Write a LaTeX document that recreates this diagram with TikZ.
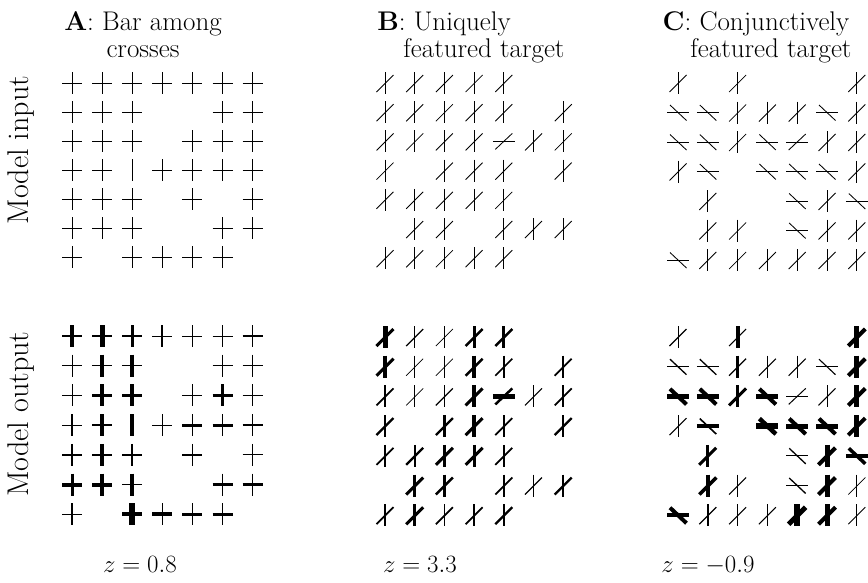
\documentclass[tikz,border=0pt]{standalone}
\newcommand{\plusg}[4]{\begin{scope}[shift={({(#1-1)*\gx},{(#2-1)*\gy})}]
\draw[line width=#3pt] (0,-11)--(0,11);
\draw[line width=#4pt] (-10,0)--(10,0);\end{scope}}
\newcommand{\barg}[3]{\begin{scope}[shift={({(#1-1)*\gx},{(#2-1)*\gy})}]
\draw[line width=#3pt] (0,-11)--(0,11);\end{scope}}
\newcommand{\vg}[4]{\begin{scope}[shift={({(#1-1)*\gx},{(#2-1)*\gy})}]
\draw[line width=#3pt] (0,-11)--(0,11);
\draw[line width=#4pt] (-8.5,9)--(8.5,-8);\end{scope}}
\newcommand{\hg}[4]{\begin{scope}[shift={({(#1-1)*\gx},{(#2-1)*\gy})}]
\draw[line width=#3pt] (-11,0)--(11,0);
\draw[line width=#4pt] (-8,-7.5)--(8.5,8);\end{scope}}
\newcommand{\tg}[4]{\begin{scope}[shift={({(#1-1)*\gx},{(#2-1)*\gy})}]
\draw[line width=#3pt] (-11,0)--(11,0);
\draw[line width=#4pt] (-8.5,8)--(8.5,-8);\end{scope}}
\def\gx{30}\def\gy{29.2}
\def\tn{0.85}
\begin{document}
\begin{tikzpicture}[x=1pt,y=-1pt,
  ttl/.style={inner sep=0pt, anchor=base, font=\fontsize{27}{32}\selectfont},
  side/.style={inner sep=0pt, rotate=90, font=\fontsize{30}{36}\selectfont},
  zl/.style={inner sep=0pt, anchor=base, font=\fontsize{24}{28}\selectfont}]
\useasboundingbox (0,0) rectangle (868,582);
% titles
\node[ttl] (ta1) at (143,30) {\textbf{A}: Bar among};
\node[ttl] (ta2) at (143,57) {crosses};
\node[ttl] (tb1) at (444,30) {\textbf{B}: Uniquely};
\node[ttl] (tb2) at (484,57) {featured target};
\node[ttl] (tc1) at (756,30) {\textbf{C}: Conjunctively};
\node[ttl] (tc2) at (771,57) {featured target};
% side labels
\node[side] (mi) at (21,150) {Model input};
\node[side] (mo) at (21,414) {Model output};
% z labels
\node[zl] (za) at (140,572) {$z = 0.8$};
\node[zl] (zb) at (420,572) {$z = 3.3$};
\node[zl] (zc) at (708,572) {$z = -0.9$};
% ---------- Panel A input
\begin{scope}[shift={(72,83)}]
\def\gx{30.1}\def\gy{29}
\foreach \c in {1,...,7} {\plusg{\c}{1}{\tn}{\tn}}
\foreach \c in {1,2,3,6,7} {\plusg{\c}{2}{\tn}{\tn}}
\foreach \c in {1,2,3,5,6,7} {\plusg{\c}{3}{\tn}{0.7}}
\foreach \c in {1,2,4,5,6,7} {\plusg{\c}{4}{\tn}{\tn}}
\barg{3}{4}{0.8}
\foreach \c in {1,2,3,5,7} {\plusg{\c}{5}{\tn}{\tn}}
\foreach \c in {1,2,3,6,7} {\plusg{\c}{6}{\tn}{\tn}}
\foreach \c in {1,3,4,5,6} {\plusg{\c}{7}{\tn}{\tn}}
\end{scope}
% ---------- Panel A output
\begin{scope}[shift={(72,336)}]
\def\gx{30.1}\def\gy{29.7}
\plusg{1}{1}{4}{1.5}\plusg{2}{1}{5}{1.5}\plusg{3}{1}{3}{1.3}\plusg{4}{1}{2.3}{1}
\plusg{5}{1}{0.9}{0.8}\plusg{6}{1}{0.7}{0.9}\plusg{7}{1}{0.8}{1.4}
\plusg{1}{2}{0.8}{1.1}\plusg{2}{2}{4.5}{1.3}\plusg{3}{2}{4}{1.3}\plusg{6}{2}{0.7}{1}\plusg{7}{2}{0.8}{1}
\plusg{1}{3}{0.8}{0.8}\plusg{2}{3}{4.5}{3}\plusg{3}{3}{3.5}{3}\plusg{5}{3}{1}{1.3}\plusg{6}{3}{2.5}{2.5}\plusg{7}{3}{0.8}{1}
\plusg{1}{4}{1.1}{1.1}\plusg{2}{4}{3.5}{1.6}\barg{3}{4}{3.5}\plusg{4}{4}{0.8}{1}\plusg{5}{4}{1.6}{3}\plusg{6}{4}{1.3}{3}\plusg{7}{4}{0.8}{1.3}
\plusg{1}{5}{1.8}{1.6}\plusg{2}{5}{3.5}{2.5}\plusg{3}{5}{2.5}{1.8}\plusg{5}{5}{1.6}{2.5}\plusg{7}{5}{0.8}{1.1}
\plusg{1}{6}{3}{4}\plusg{2}{6}{3.5}{4}\plusg{3}{6}{4}{1.6}\plusg{6}{6}{1.3}{3.5}\plusg{7}{6}{1.3}{3.5}
\plusg{1}{7}{1.3}{1.3}\plusg{3}{7}{6}{4}\plusg{4}{7}{1.3}{4}\plusg{5}{7}{1.8}{3}\plusg{6}{7}{1.3}{3}
\end{scope}
% ---------- Panel B input
\begin{scope}[shift={(385,83)}]
\def\gx{29.7}\def\gy{29.2}
\foreach \c in {1,...,5} {\vg{\c}{1}{\tn}{\tn}}
\foreach \c in {1,...,5,7} {\vg{\c}{2}{\tn}{\tn}}
\foreach \c in {1,2,3,4,6,7} {\vg{\c}{3}{\tn}{\tn}}
\tg{5}{3}{\tn}{\tn}
\foreach \c in {1,3,4,5,7} {\vg{\c}{4}{\tn}{\tn}}
\foreach \c in {1,...,5} {\vg{\c}{5}{\tn}{\tn}}
\foreach \c in {2,3,5,6,7} {\vg{\c}{6}{\tn}{\tn}}
\foreach \c in {1,...,5} {\vg{\c}{7}{\tn}{\tn}}
\end{scope}
% ---------- Panel B output
\begin{scope}[shift={(385,337)}]
\def\gx{29.7}\def\gy{29.7}
\vg{1}{1}{5}{3}\vg{2}{1}{1}{1.3}\vg{3}{1}{0.8}{0.8}\vg{4}{1}{3}{2.5}\vg{5}{1}{3}{2.5}
\vg{1}{2}{4}{3}\vg{2}{2}{0.8}{0.8}\vg{3}{2}{0.8}{0.8}\vg{4}{2}{3.5}{2.5}\vg{5}{2}{1.8}{1.6}\vg{7}{2}{1.8}{1.8}
\vg{1}{3}{1.8}{1.8}\vg{2}{3}{0.8}{0.8}\vg{3}{3}{1.3}{1.3}\vg{4}{3}{4}{3}\tg{5}{3}{5}{2.5}\vg{6}{3}{0.8}{1.1}\vg{7}{3}{1.8}{1.8}
\vg{1}{4}{2.3}{2.3}\vg{3}{4}{2.3}{2.3}\vg{4}{4}{4}{3}\vg{5}{4}{1.8}{1.8}\vg{7}{4}{2.3}{2.3}
\vg{1}{5}{1.3}{1.8}\vg{2}{5}{1.8}{2.3}\vg{3}{5}{3.5}{3}\vg{4}{5}{3}{3}\vg{5}{5}{1.8}{1.8}
\vg{2}{6}{3.5}{3}\vg{3}{6}{3}{2.5}\vg{5}{6}{1.8}{1.8}\vg{6}{6}{1}{1.3}\vg{7}{6}{1.8}{2.3}
\vg{1}{7}{1.1}{1.8}\vg{2}{7}{3}{3}\vg{3}{7}{1.8}{1.8}\vg{4}{7}{1.8}{1.8}\vg{5}{7}{1.8}{2.3}
\end{scope}
% ---------- Panel C input
\begin{scope}[shift={(678,83)}]
\def\gx{29.8}\def\gy{29.5}
\vg{1}{1}{\tn}{\tn}\vg{3}{1}{\tn}{\tn}\vg{7}{1}{\tn}{\tn}
\hg{1}{2}{\tn}{\tn}\hg{2}{2}{\tn}{\tn}\vg{3}{2}{\tn}{\tn}\vg{4}{2}{\tn}{\tn}\vg{5}{2}{\tn}{\tn}\hg{6}{2}{\tn}{\tn}\vg{7}{2}{\tn}{\tn}
\hg{1}{3}{\tn}{\tn}\hg{2}{3}{\tn}{\tn}\vg{3}{3}{\tn}{\tn}\hg{4}{3}{\tn}{\tn}\tg{5}{3}{\tn}{\tn}\vg{6}{3}{\tn}{\tn}\vg{7}{3}{\tn}{\tn}
\vg{1}{4}{\tn}{\tn}\hg{2}{4}{\tn}{\tn}\hg{4}{4}{\tn}{\tn}\hg{5}{4}{\tn}{\tn}\hg{6}{4}{\tn}{\tn}\vg{7}{4}{\tn}{\tn}
\vg{2}{5}{\tn}{\tn}\hg{5}{5}{\tn}{\tn}\vg{6}{5}{\tn}{\tn}\hg{7}{5}{\tn}{\tn}
\vg{2}{6}{\tn}{\tn}\vg{3}{6}{\tn}{\tn}\hg{5}{6}{\tn}{\tn}\vg{6}{6}{\tn}{\tn}\vg{7}{6}{\tn}{\tn}
\hg{1}{7}{\tn}{\tn}\vg{2}{7}{\tn}{\tn}\vg{3}{7}{\tn}{\tn}\vg{4}{7}{\tn}{\tn}\vg{5}{7}{\tn}{\tn}\vg{6}{7}{\tn}{\tn}\vg{7}{7}{\tn}{\tn}
\end{scope}
% ---------- Panel C output
\begin{scope}[shift={(678,337)}]
\def\gx{29.8}\def\gy{29.7}
\vg{1}{1}{0.8}{1.1}\vg{3}{1}{4}{1.1}\vg{7}{1}{5}{4}
\hg{1}{2}{1}{1.3}\hg{2}{2}{1}{1.3}\vg{3}{2}{3.5}{1.3}\vg{4}{2}{0.8}{1.1}\vg{5}{2}{1}{1.1}\hg{6}{2}{0.8}{1.1}\vg{7}{2}{5}{4}
\hg{1}{3}{5}{4}\hg{2}{3}{5}{4}\vg{3}{3}{3}{3}\hg{4}{3}{5}{4}\tg{5}{3}{1}{1}\vg{6}{3}{0.8}{1}\vg{7}{3}{5}{4}
\vg{1}{4}{0.8}{1}\hg{2}{4}{3.5}{1.6}\hg{4}{4}{6}{4.5}\hg{5}{4}{5}{4}\hg{6}{4}{5}{4}\vg{7}{4}{5}{4}
\vg{2}{5}{3}{3}\hg{5}{5}{1.3}{1.3}\vg{6}{5}{5}{4}\hg{7}{5}{3.5}{3.5}
\vg{2}{6}{4}{3.5}\vg{3}{6}{0.8}{1.1}\hg{5}{6}{1.8}{1.3}\vg{6}{6}{5}{4}\vg{7}{6}{0.8}{0.8}
\hg{1}{7}{4}{4}\vg{2}{7}{1.8}{1.3}\vg{3}{7}{0.8}{1.1}\vg{4}{7}{0.8}{1.1}\vg{5}{7}{6}{5}\vg{6}{7}{5}{4}\vg{7}{7}{0.8}{0.8}
\end{scope}
\end{tikzpicture}
\end{document}
